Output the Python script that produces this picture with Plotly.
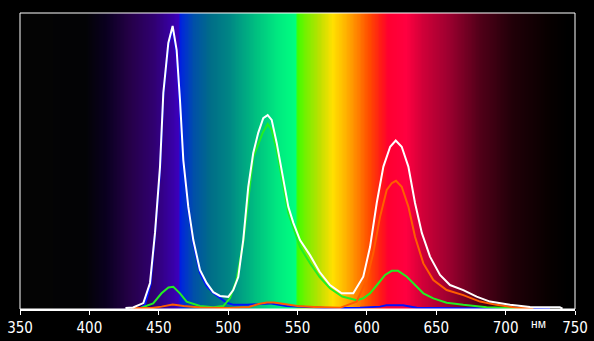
import plotly.graph_objects as go

# ---- data (wavelength nm, relative intensity) ----
white_nm = [426.0, 431.5, 438.9, 443.7, 447.3, 450.9, 453.3, 456.9, 460.0, 462.9, 465.3, 467.7, 471.3, 474.9,
            479.7, 484.5, 489.3, 494.1, 500.1, 503.7, 507.3, 510.9, 514.5, 518.1, 521.7, 525.3, 528.5,
            531.4, 535.0, 538.6, 543.4, 547.0, 551.8, 559.0, 566.0, 573.4, 581.8, 590.2, 597.4, 602.3,
            607.1, 611.9, 616.8, 620.8, 625.1, 629.9, 634.7, 639.6, 645.5, 652.7, 659.9, 669.5, 679.1,
            688.7, 703.2, 717.6, 739.0, 741.0]
white_v = [0.3, 0.5, 2.0, 8.8, 25.7, 48.0, 73.0, 89.9, 95.6, 87.5, 70.6, 50.3, 34.5, 23.3,
           13.2, 8.8, 5.7, 4.4, 4.1, 6.4, 10.8, 23.3, 41.2, 52.7, 59.5, 64.5, 65.5,
           63.9, 56.1, 47.0, 34.5, 29.1, 23.3, 18.2, 12.5, 8.1, 5.3, 5.3, 10.9, 21.0,
           35.8, 48.1, 54.8, 56.9, 54.8, 48.1, 35.8, 25.7, 17.7, 11.5, 8.1, 6.4, 4.2,
           2.5, 1.4, 0.7, 0.6, 0.1]

red_nm = [430, 445, 452, 460, 468, 480, 500, 515, 522, 528, 533, 540, 550, 562, 575, 580.6,
          592.6, 599.8, 604.6, 609.5, 614.3, 617.9, 621.0, 625.1, 629.9, 634.7, 640.7, 647.9,
          657.5, 669.5, 681.5, 693.5, 707.9, 720]
red_v = [0.3, 0.3, 0.8, 1.5, 1.0, 0.5, 0.3, 0.7, 1.7, 2.2, 2.2, 1.7, 1.0, 0.7, 0.5, 0.4,
         2.5, 9.8, 18.9, 31.2, 40.2, 42.5, 43.3, 41.3, 34.6, 24.4, 15.4, 9.8,
         6.4, 4.7, 2.5, 1.4, 0.4, 0.3]

green_nm = [436.5, 446.0, 452.0, 457.0, 460.5, 465.3, 470.1, 479.7, 489.3, 496.5, 501.3, 506.1,
            510.9, 518.1, 524.9, 528.5, 531.4, 535.0, 538.6, 543.4, 551.8, 559.0, 566.0, 573.4,
            582.2, 592.6, 597.4, 602.3, 608.3, 613.1, 617.9, 622.5, 628.8, 634.7, 640.7, 647.9,
            657.5, 669.5, 686.3, 712.8]
green_v = [0.3, 1.9, 5.3, 7.3, 7.5, 5.3, 2.5, 1.0, 0.6, 1.0, 3.6, 9.8,
           22.6, 51.3, 59.5, 62.5, 60.5, 53.7, 44.6, 32.4, 20.9, 15.5, 10.8, 7.0,
           4.2, 3.0, 3.6, 5.3, 8.7, 11.5, 12.9, 12.9, 10.9, 8.1, 5.3, 3.6,
           2.1, 1.4, 0.6, 0.2]

blue_nm = [437, 440, 444, 447.3, 451, 453.3, 457, 460, 463, 465.3, 467.7, 471.3, 474.9, 479.7,
           484.5, 489.3, 494, 499, 504, 513.7, 523, 530, 542, 552, 573, 595, 609.5, 614, 626,
           636, 669.5, 732]
blue_v = [0.3, 1.4, 8.1, 25.0, 47.0, 72.0, 89.2, 94.9, 85.8, 69.3, 49.3, 33.4, 22.3, 12.2,
          7.8, 5.4, 3.7, 2.1, 1.4, 1.4, 1.7, 1.9, 1.0, 0.8, 0.25, 0.4, 0.8, 1.25, 1.25,
          0.4, 0.25, 0.25]

tick_vals = [350, 400, 450, 500, 550, 600, 650, 700, 750]

# ---- spectrum background colour stops (nm, colour) ----
spec_stops = [(350, "#040404"), (397, "#030305"), (412, "#0a0020"), (429, "#250048"),
              (446, "#300070"), (460, "#3800a8"), (464, "#3c00bc"), (465, "#0020e0"),
              (468, "#0030d0"), (475, "#0050a8"), (487, "#006d88"), (500, "#008585"),
              (520, "#00c080"), (535, "#00e880"), (548.5, "#00ff80"), (549.6, "#40ff00"),
              (556, "#78f000"), (566, "#c0e000"), (575, "#ffe000"), (585, "#ffb000"),
              (593, "#ff8000"), (602, "#ff4800"), (610, "#ff1818"), (615, "#ff0030"),
              (628, "#ff0040"), (640, "#d00038"), (657.5, "#a00030"), (681.5, "#500018"),
              (705, "#200008"), (730, "#080000"), (744, "#000000"), (750, "#000000")]

bg_x = list(range(350, 751))
bg_z = [bg_x, bg_x]
colorscale = [[(nm - 350) / 400.0, c] for nm, c in spec_stops]

fig = go.Figure()
fig.add_trace(go.Heatmap(x=bg_x, y=[0, 100], z=bg_z, colorscale=colorscale, zmin=350, zmax=750,
                         showscale=False, hoverinfo="skip", zsmooth="best"))

for nm, v, col in [(blue_nm, blue_v, "#0010ff"), (green_nm, green_v, "#22ee22"),
                   (red_nm, red_v, "#ff5c00"), (white_nm, white_v, "#ffffff")]:
    fig.add_trace(go.Scatter(x=nm, y=v, mode="lines", line=dict(color=col, width=2),
                             showlegend=False, hoverinfo="skip"))

fig.update_layout(
    width=594, height=341,
    margin=dict(l=20, r=19, t=13, b=32, autoexpand=False),
    paper_bgcolor="black", plot_bgcolor="black",
    xaxis=dict(range=[350, 750], tickvals=tick_vals, ticktext=[str(t) for t in tick_vals],
               ticks="outside", ticklen=4, tickcolor="white", tickwidth=1, automargin=False,
               tickfont=dict(color="white", size=15,
                             family="Liberation Sans Narrow, Arial Narrow, DejaVu Sans Condensed, sans-serif"),
               showgrid=False, zeroline=False, showline=True, linecolor="white", linewidth=2),
    yaxis=dict(range=[0, 100], visible=False, showgrid=False, zeroline=False, automargin=False),
    shapes=[dict(type="rect", xref="paper", yref="paper", x0=0, x1=1, y0=0, y1=1,
                 line=dict(color="white", width=1), layer="above")],
    annotations=[dict(x=724, y=-0.05, xref="x", yref="paper", text="нм", showarrow=False,
                      xanchor="center", yanchor="middle",
                      font=dict(color="white", size=12, family="Liberation Sans, Arial, sans-serif"))],
)

fig.write_html("out.html")
